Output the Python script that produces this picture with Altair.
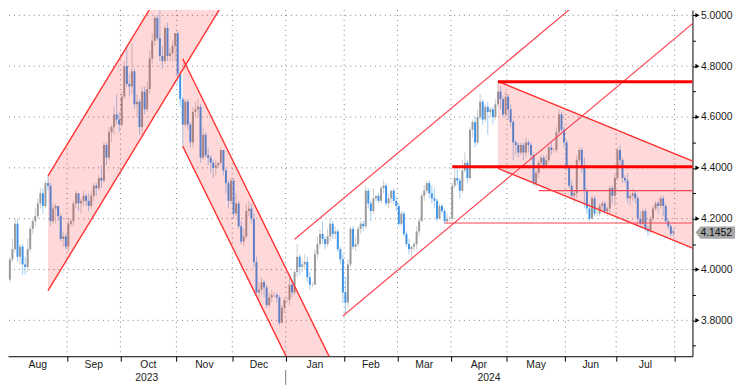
import altair as alt
import numpy as np
import pandas as pd

FIRST_DAY = "2023-08-01"
LAST_DAY = "2024-07-31"

# ---- daily OHLC (weekdays), one line per month ----
open_m = [
    [3.96,4.04,4.08,4.18,4.05,4.09,4.02,4.01,4.08,4.16,4.19,4.21,4.26,4.30,4.25,4.34,4.33,4.19,4.24,4.25,4.21,4.12,4.13],
    [4.09,4.18,4.19,4.26,4.30,4.26,4.27,4.29,4.27,4.25,4.29,4.33,4.32,4.36,4.35,4.49,4.44,4.54,4.56,4.61,4.59],
    [4.57,4.68,4.80,4.73,4.72,4.78,4.65,4.66,4.56,4.70,4.63,4.71,4.83,4.90,4.99,4.91,4.84,4.82,4.95,4.84,4.85,4.88],
    [4.93,4.77,4.67,4.57,4.66,4.57,4.50,4.62,4.63,4.64,4.44,4.53,4.45,4.44,4.42,4.40,4.41,4.42,4.47,4.39,4.34,4.27],
    [4.35,4.22,4.26,4.17,4.11,4.13,4.23,4.24,4.20,4.03,3.91,3.92,3.95,3.93,3.86,3.89,3.90,3.90,3.89,3.79,3.85],
    [3.88,3.88,3.94,3.91,3.99,4.05,4.01,4.02,4.03,3.97,3.94,3.94,4.06,4.10,4.14,4.12,4.10,4.13,4.18,4.14,4.15,4.08,4.04],
    [3.91,3.87,4.02,4.16,4.09,4.10,4.16,4.18,4.17,4.31,4.26,4.23,4.28,4.29,4.27,4.32,4.33,4.26,4.28,4.31,4.27],
    [4.25,4.18,4.22,4.14,4.10,4.08,4.09,4.10,4.15,4.19,4.29,4.31,4.34,4.30,4.28,4.27,4.20,4.25,4.23,4.19,4.20],
    [4.20,4.33,4.36,4.35,4.31,4.39,4.42,4.36,4.55,4.58,4.50,4.60,4.66,4.59,4.64,4.62,4.63,4.60,4.65,4.70,4.67,4.61],
    [4.68,4.63,4.58,4.50,4.49,4.46,4.49,4.46,4.50,4.49,4.45,4.34,4.38,4.42,4.44,4.41,4.43,4.48,4.47,4.47,4.54,4.61,4.55],
    [4.50,4.40,4.33,4.29,4.30,4.43,4.47,4.40,4.31,4.24,4.20,4.28,4.22,4.22,4.25,4.26,4.23,4.24,4.32,4.29],
    [4.36,4.47,4.43,4.36,4.35,4.28,4.29,4.30,4.28,4.20,4.18,4.23,4.16,4.15,4.20,4.24,4.26,4.25,4.28,4.25,4.19,4.17,4.15],
]
high_m = [
    [4.05,4.12,4.20,4.20,4.10,4.10,4.05,4.12,4.17,4.20,4.24,4.28,4.32,4.32,4.35,4.37,4.34,4.26,4.26,4.25,4.22,4.15,4.14],
    [4.20,4.20,4.27,4.31,4.30,4.28,4.31,4.30,4.30,4.31,4.34,4.34,4.37,4.41,4.50,4.50,4.56,4.57,4.64,4.69,4.62],
    [4.70,4.82,4.88,4.77,4.89,4.79,4.69,4.67,4.72,4.72,4.74,4.86,4.93,5.00,5.00,5.02,4.88,4.96,4.97,4.87,4.90,4.93],
    [4.94,4.78,4.68,4.67,4.67,4.58,4.64,4.66,4.67,4.65,4.56,4.54,4.48,4.45,4.43,4.43,4.42,4.48,4.47,4.40,4.35,4.36],
    [4.36,4.30,4.27,4.19,4.16,4.26,4.27,4.26,4.22,4.05,3.95,3.97,3.96,3.94,3.91,3.92,3.91,3.91,3.90,3.86,3.89],
    [3.89,3.97,3.96,4.00,4.10,4.06,4.04,4.06,4.05,3.99,3.95,4.08,4.13,4.16,4.19,4.13,4.16,4.20,4.19,4.17,4.16,4.09,4.06],
    [3.97,4.04,4.17,4.17,4.13,4.17,4.19,4.19,4.33,4.32,4.27,4.32,4.29,4.30,4.33,4.35,4.34,4.30,4.31,4.32,4.29],
    [4.26,4.23,4.23,4.15,4.12,4.09,4.11,4.17,4.20,4.30,4.33,4.35,4.35,4.33,4.32,4.28,4.26,4.26,4.24,4.22,4.21],
    [4.34,4.40,4.40,4.36,4.43,4.46,4.43,4.56,4.59,4.60,4.63,4.69,4.67,4.65,4.66,4.64,4.64,4.67,4.74,4.72,4.68,4.70],
    [4.69,4.65,4.59,4.51,4.50,4.50,4.50,4.52,4.51,4.50,4.46,4.39,4.43,4.45,4.45,4.45,4.49,4.50,4.48,4.56,4.63,4.62,4.56],
    [4.51,4.41,4.35,4.31,4.45,4.48,4.48,4.44,4.32,4.26,4.29,4.29,4.23,4.26,4.27,4.27,4.25,4.33,4.33,4.38],
    [4.48,4.49,4.44,4.37,4.38,4.30,4.32,4.31,4.29,4.23,4.24,4.24,4.17,4.21,4.25,4.27,4.27,4.29,4.29,4.26,4.20,4.18,4.16],
]
low_m = [
    [3.95,4.03,4.07,4.03,4.02,3.98,3.98,3.99,4.07,4.14,4.17,4.20,4.24,4.22,4.24,4.31,4.17,4.18,4.18,4.19,4.11,4.09,4.08],
    [4.07,4.17,4.17,4.24,4.23,4.22,4.25,4.25,4.23,4.24,4.27,4.29,4.31,4.32,4.34,4.41,4.43,4.50,4.53,4.57,4.54],
    [4.56,4.67,4.72,4.68,4.69,4.63,4.60,4.53,4.53,4.61,4.62,4.69,4.81,4.88,4.90,4.82,4.79,4.81,4.82,4.82,4.82,4.82],
    [4.73,4.64,4.48,4.56,4.55,4.48,4.48,4.60,4.60,4.42,4.43,4.44,4.41,4.38,4.36,4.37,4.40,4.41,4.37,4.30,4.24,4.26],
    [4.20,4.21,4.16,4.10,4.09,4.12,4.21,4.18,4.01,3.89,3.88,3.90,3.89,3.85,3.85,3.87,3.89,3.87,3.78,3.79,3.83],
    [3.87,3.86,3.89,3.90,3.97,3.98,3.99,4.00,3.95,3.92,3.93,3.94,4.04,4.09,4.10,4.08,4.09,4.11,4.12,4.12,4.07,4.02,3.87],
    [3.82,3.85,4.01,4.08,4.07,4.09,4.14,4.15,4.16,4.24,4.19,4.22,4.27,4.26,4.26,4.30,4.25,4.24,4.26,4.26,4.23],
    [4.17,4.17,4.13,4.09,4.06,4.04,4.07,4.08,4.13,4.19,4.27,4.30,4.28,4.26,4.24,4.19,4.20,4.22,4.18,4.18,4.19],
    [4.19,4.32,4.33,4.28,4.30,4.38,4.34,4.35,4.52,4.48,4.49,4.59,4.57,4.58,4.53,4.60,4.57,4.59,4.64,4.63,4.60,4.60],
    [4.59,4.56,4.43,4.45,4.44,4.45,4.43,4.44,4.46,4.43,4.33,4.32,4.36,4.40,4.40,4.40,4.42,4.45,4.46,4.46,4.53,4.54,4.48],
    [4.39,4.32,4.28,4.26,4.28,4.42,4.38,4.24,4.22,4.19,4.20,4.21,4.21,4.21,4.23,4.22,4.21,4.22,4.26,4.25],
    [4.35,4.41,4.34,4.34,4.26,4.25,4.27,4.26,4.17,4.17,4.17,4.15,4.13,4.14,4.19,4.23,4.22,4.24,4.21,4.18,4.16,4.13,4.13],
]
close_m = [
    [4.04,4.08,4.18,4.05,4.09,4.02,4.01,4.08,4.16,4.19,4.21,4.26,4.30,4.25,4.34,4.33,4.19,4.24,4.25,4.21,4.12,4.13,4.09],
    [4.18,4.19,4.26,4.30,4.26,4.27,4.29,4.27,4.25,4.29,4.33,4.32,4.36,4.35,4.49,4.44,4.54,4.56,4.61,4.59,4.57],
    [4.68,4.80,4.73,4.72,4.78,4.65,4.66,4.56,4.70,4.63,4.71,4.83,4.90,4.99,4.91,4.84,4.82,4.95,4.84,4.85,4.88,4.93],
    [4.77,4.67,4.57,4.66,4.57,4.50,4.62,4.63,4.64,4.44,4.53,4.45,4.44,4.42,4.40,4.41,4.42,4.47,4.39,4.34,4.27,4.35],
    [4.22,4.26,4.17,4.11,4.13,4.23,4.24,4.20,4.03,3.91,3.92,3.95,3.93,3.86,3.89,3.90,3.90,3.89,3.79,3.85,3.88],
    [3.88,3.94,3.91,3.99,4.05,4.01,4.02,4.03,3.97,3.94,3.94,4.06,4.10,4.14,4.12,4.10,4.13,4.18,4.14,4.15,4.08,4.04,3.91],
    [3.87,4.02,4.16,4.09,4.10,4.16,4.18,4.17,4.31,4.26,4.23,4.28,4.29,4.27,4.32,4.33,4.26,4.28,4.31,4.27,4.25],
    [4.18,4.22,4.14,4.10,4.08,4.09,4.10,4.15,4.19,4.29,4.31,4.34,4.30,4.28,4.27,4.20,4.25,4.23,4.19,4.20,4.20],
    [4.33,4.36,4.35,4.31,4.39,4.42,4.36,4.55,4.58,4.50,4.60,4.66,4.59,4.64,4.62,4.63,4.60,4.65,4.70,4.67,4.61,4.68],
    [4.63,4.58,4.50,4.49,4.46,4.49,4.46,4.50,4.49,4.45,4.34,4.38,4.42,4.44,4.41,4.43,4.48,4.47,4.47,4.54,4.61,4.55,4.50],
    [4.40,4.33,4.29,4.30,4.43,4.47,4.40,4.31,4.24,4.20,4.28,4.22,4.22,4.25,4.26,4.23,4.24,4.32,4.29,4.36],
    [4.47,4.43,4.36,4.35,4.28,4.29,4.30,4.28,4.20,4.18,4.23,4.16,4.15,4.20,4.24,4.26,4.25,4.28,4.25,4.19,4.17,4.14,4.1452],
]

month_labels = ["Aug", "Sep", "Oct", "Nov", "Dec", "Jan", "Feb", "Mar", "Apr", "May", "Jun", "Jul"]
year_labels = ["2023", "2024"]
y_major = [3.8, 4.0, 4.2, 4.4, 4.6, 4.8, 5.0]
y_minor = [3.7, 3.9, 4.1, 4.3, 4.5, 4.7, 4.9]

# ---- drawn channels (date, yield) ----
fill_names = ["A", "B", "D"]
fill_start = ["2023-08-22", "2023-11-03", "2024-04-25"]
fill_end = ["2023-12-05", "2024-01-30", "2024-08-12"]
fill_lo_start = [3.917, 4.485, 4.398]
fill_lo_end = [5.147, 3.2245, 4.0823]
fill_hi_start = [4.368, 4.829, 4.740]
fill_hi_end = [5.598, 3.5685, 4.4243]

guide_d0 = ["2024-01-04", "2024-01-31", "2024-03-27", "2024-05-17"]
guide_v0 = [4.119, 3.817, 4.183, 4.310]
guide_d1 = ["2024-07-02", "2024-08-12", "2024-08-12", "2024-08-12"]
guide_v1 = [5.189, 4.971, 4.183, 4.310]

level_d0 = ["2024-04-01", "2024-04-25"]
level_v = [4.404, 4.739]
level_d1 = ["2024-08-12", "2024-08-12"]

# ---------------------------------------------------------------
dates = pd.bdate_range(FIRST_DAY, LAST_DAY)
flat = lambda m: [v for row in m for v in row]
o, h, l, c = flat(open_m), flat(high_m), flat(low_m), flat(close_m)
assert len(o) == len(h) == len(l) == len(c) == len(dates), (len(o), len(h), len(l), len(c), len(dates))


def bidx(d):
    return int(np.busday_count(np.datetime64(FIRST_DAY), np.datetime64(d)))


df = pd.DataFrame({"i": np.arange(len(dates)), "open": o, "high": h, "low": l, "close": c})
df["blo"] = df[["open", "close"]].min(axis=1)
df["bhi"] = df[["open", "close"]].max(axis=1)

per = pd.Series(dates).dt.to_period("M")
grp = pd.DataFrame({"i": df["i"], "m": per}).groupby("m")["i"]
firsts, lasts = grp.min().values, grp.max().values
bounds = [float(f) - 0.5 for f in firsts[1:]] + [float(lasts[-1]) + 0.5]
months_df = pd.DataFrame({"label": month_labels, "mid": (firsts + lasts) / 2.0})

W, H = 692, 350
X_DOMAIN = [-0.74, 268.52]
Y_DOMAIN = [3.6588, 5.0206]
xs = alt.Scale(domain=X_DOMAIN, nice=False, zero=False)
ys = alt.Scale(domain=Y_DOMAIN, nice=False, zero=False)

jan_b = bounds[4]
years_df = pd.DataFrame({"label": year_labels,
                         "mid": [(X_DOMAIN[0] + jan_b) / 2, (jan_b + X_DOMAIN[1]) / 2]})

FONT = "Liberation Sans"
RED = "#ff3030"
BLUE, BLUE_L = "#4094e8", "#a0ccf6"
GREY, GREY_L = "#9a9a9a", "#cdcdcd"

Y_AXIS = alt.Axis(
    orient="right", values=sorted(y_major + y_minor),
    labelExpr="round(datum.value * 10) % 2 == 0 ? format(datum.value, '.4f') : ''",
    tickSize=3, tickColor="#000", domainColor="#000", domainWidth=1,
    labelPadding=5, labelFontSize=10.5, labelFont=FONT, labelColor="#1a1a1a",
    labelAlign="left", labelBaseline="middle", labelOverlap=False, labelFlush=False,
    grid=False, title=None,
)
X_AXIS = alt.Axis(
    values=bounds, labels=False, ticks=True, tickSize=5, tickColor="#000",
    domainColor="#000", domainWidth=1, grid=False, title=None,
)


def X(f):
    return alt.X(f, scale=xs, axis=X_AXIS, title=None)


def Y(f, **kw):
    return alt.Y(f, scale=ys, axis=Y_AXIS, title=None, **kw)


grid_v = alt.Chart(pd.DataFrame({"x": bounds})).mark_rule(
    color="#7d7d7d", strokeDash=[1, 4], strokeWidth=1
).encode(x=X("x:Q"))

grid_h = alt.Chart(pd.DataFrame({"v": y_major})).mark_rule(
    color="#7d7d7d", strokeDash=[1, 4], strokeWidth=1
).encode(y=Y("v:Q"))

down = "datum.close < datum.open"
wick = alt.Chart(df).mark_rule(strokeWidth=1).encode(
    x=X("i:Q"), y=Y("low:Q"), y2="high:Q",
    color=alt.condition(down, alt.value(BLUE_L), alt.value(GREY_L)),
)
body = alt.Chart(df).mark_rule(strokeWidth=2).encode(
    x=X("i:Q"), y=Y("blo:Q"), y2="bhi:Q",
    color=alt.condition(down, alt.value(BLUE), alt.value(GREY)),
)

fill_rows, edge_rows = [], []
for n, d0, d1, l0, l1, h0, h1 in zip(fill_names, fill_start, fill_end, fill_lo_start,
                                     fill_lo_end, fill_hi_start, fill_hi_end):
    fill_rows.append({"name": n, "x": bidx(d0), "lo": l0, "hi": h0})
    fill_rows.append({"name": n, "x": bidx(d1), "lo": l1, "hi": h1})
    edge_rows.append({"x0": bidx(d0), "x1": bidx(d1), "y0": l0, "y1": l1})
    edge_rows.append({"x0": bidx(d0), "x1": bidx(d1), "y0": h0, "y1": h1})

fills = alt.Chart(pd.DataFrame(fill_rows)).mark_area(color="#ff0000", opacity=0.15, clip=True).encode(
    x=X("x:Q"), y=Y("lo:Q", stack=None), y2="hi:Q", detail="name:N",
)
edges = alt.Chart(pd.DataFrame(edge_rows)).mark_rule(color=RED, strokeWidth=1.4, clip=True).encode(
    x=X("x0:Q"), x2="x1:Q", y=Y("y0:Q"), y2="y1:Q",
)

guides_df = pd.DataFrame({"x0": [bidx(d) for d in guide_d0], "x1": [bidx(d) for d in guide_d1],
                          "y0": guide_v0, "y1": guide_v1})
guides = alt.Chart(guides_df).mark_rule(color="#ff4455", strokeWidth=1.2, clip=True).encode(
    x=X("x0:Q"), x2="x1:Q", y=Y("y0:Q"), y2="y1:Q",
)

levels_df = pd.DataFrame({"x0": [bidx(d) for d in level_d0], "x1": [bidx(d) for d in level_d1],
                          "v": level_v})
levels = alt.Chart(levels_df).mark_rule(color="#ff0000", strokeWidth=3, clip=True).encode(
    x=X("x0:Q"), x2="x1:Q", y=Y("v:Q"),
)

year_div = alt.Chart(pd.DataFrame({"x": [jan_b]})).mark_rule(color="#7a7a7a").encode(
    x=X("x:Q"), y=alt.value(H + 14), y2=alt.value(H + 29),
)

month_text = alt.Chart(months_df).mark_text(
    font=FONT, fontSize=10.5, color="#1a1a1a", baseline="middle", align="center"
).encode(x=X("mid:Q"), y=alt.value(H + 9), text="label:N")

year_text = alt.Chart(years_df).mark_text(
    font=FONT, fontSize=10.5, color="#1a1a1a", baseline="middle", align="center"
).encode(x=X("mid:Q"), y=alt.value(H + 22), text="label:N")

tri = alt.Chart(pd.DataFrame({"v": y_major})).mark_point(
    shape="triangle-right", filled=True, color="#000", size=22, opacity=1
).encode(x=alt.value(W + 5), y=Y("v:Q"))

last_df = pd.DataFrame({"v": [c[-1]]})
BOX = "M-1,0L-0.76,-0.29L1,-0.29L1,0.29L-0.76,0.29Z"
last_box = alt.Chart(last_df).mark_point(
    shape=BOX, filled=True, color="#a7a7a7", size=1764, opacity=1, strokeWidth=0
).encode(x=alt.value(W + 24), y=Y("v:Q"))
last_text = alt.Chart(last_df).mark_text(
    font=FONT, fontSize=10.5, color="#111", align="left", baseline="middle"
).encode(x=alt.value(W + 8), y=Y("v:Q"), text=alt.Text("v:Q", format=".4f"))

chart = alt.layer(
    grid_v, grid_h, wick, body, fills, edges, guides, levels,
    year_div, month_text, year_text, tri, last_box, last_text,
).properties(
    width=W, height=H,
    padding={"left": 0, "top": 0, "right": 43, "bottom": 29},
    autosize=alt.AutoSizeParams(type="none"),
).configure_view(stroke=None)

chart.save("out.html", embed_options={"renderer": "svg", "actions": False})
